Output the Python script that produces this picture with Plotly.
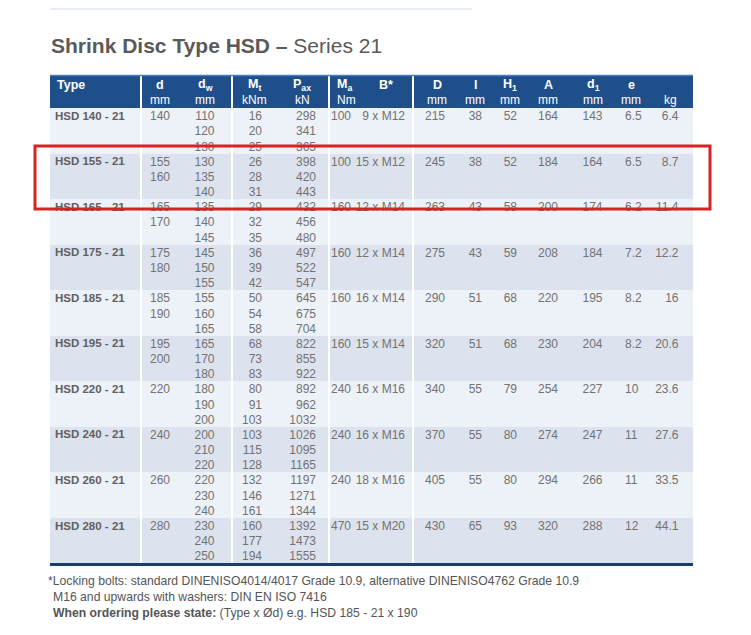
import plotly.graph_objects as go

# ---------------- data ----------------
types = ["HSD 140 - 21", "HSD 155 - 21", "HSD 165 - 21", "HSD 175 - 21", "HSD 185 - 21",
         "HSD 195 - 21", "HSD 220 - 21", "HSD 240 - 21", "HSD 260 - 21", "HSD 280 - 21"]
d_mm = [[140], [155, 160], [165, 170], [175, 180], [185, 190], [195, 200],
        [220], [240], [260], [280]]
dw_mm = [[110, 120, 130], [130, 135, 140], [135, 140, 145], [145, 150, 155], [155, 160, 165],
         [165, 170, 180], [180, 190, 200], [200, 210, 220], [220, 230, 240], [230, 240, 250]]
mt_knm = [[16, 20, 25], [26, 28, 31], [29, 32, 35], [36, 39, 42], [50, 54, 58],
          [68, 73, 83], [80, 91, 103], [103, 115, 128], [132, 146, 161], [160, 177, 194]]
pax_kn = [[298, 341, 365], [398, 420, 443], [432, 456, 480], [497, 522, 547], [645, 675, 704],
          [822, 855, 922], [892, 962, 1032], [1026, 1095, 1165], [1197, 1271, 1344],
          [1392, 1473, 1555]]
ma_nm = [100, 100, 160, 160, 160, 160, 240, 240, 240, 470]
bolts = ["9 x M12", "15 x M12", "12 x M14", "12 x M14", "16 x M14",
         "15 x M14", "16 x M16", "16 x M16", "18 x M16", "15 x M20"]
D_mm = [215, 245, 263, 275, 290, 320, 340, 370, 405, 430]
l_mm = [38, 38, 43, 43, 51, 51, 55, 55, 55, 65]
h1_mm = [52, 52, 58, 59, 68, 68, 79, 80, 80, 93]
a_mm = [164, 184, 200, 208, 220, 230, 254, 274, 294, 320]
d1_mm = [143, 164, 174, 184, 195, 204, 227, 247, 266, 288]
e_mm = [6.5, 6.5, 6.2, 7.2, 8.2, 8.2, 10, 11, 11, 12]
kg = [6.4, 8.7, 11.4, 12.2, 16, 20.6, 23.6, 27.6, 33.5, 44.1]

header_top = ["Type", "d", "d<sub>w</sub>", "M<sub>t</sub>", "P<sub>ax</sub>", "M<sub>a</sub>",
              "B*", "D", "l", "H<sub>1</sub>", "A", "d<sub>1</sub>", "e", ""]
header_units = ["", "mm", "mm", "kNm", "kN", "Nm", "", "mm", "mm", "mm", "mm", "mm", "mm", "kg"]

title_bold = "Shrink Disc Type HSD –"
title_rest = "Series 21"
foot_1 = "*Locking bolts: standard DINENISO4014/4017 Grade 10.9, alternative DINENISO4762 Grade 10.9"
foot_2 = "M16 and upwards with washers: DIN EN ISO 7416"
foot_3_bold = "When ordering please state:"
foot_3 = "(Type x Ød) e.g. HSD 185 - 21 x 190"

# ---------------- layout constants (reference pixels) ----------------
W, H = 751, 635
OFF = 8                  # page body margin of the html page
FONT = "Liberation Sans"
LINES = 3
N = len(types)
HEAD_Y0, HEAD_H = 75, 33
ROW_H = 15.17
TEXT_DROP = 4.7          # plotly puts text lower in a cell than the reference does
CELL_PAD = 8             # plotly table horizontal text padding
TABLE_X0, TABLE_X1 = 50, 693
GROUPS = [(50, 140), (142, 231), (233, 328), (330, 412), (414, 693)]
HEAD_BLUE = "#1f4f8a"
ROW_COLORS = ["#edf1f8", "#dde3ee"]
TXT = "#727272"


def px(x):
    return (x - OFF) / (W - OFF)


def py(y):
    return 1 - (y - OFF) / (H - OFF)


NB = "\u00a0"


def nb(s):
    return s.replace(" ", NB)


def per_line(groups):
    out = []
    for g in groups:
        out.extend(list(g) + [""] * (LINES - len(g)))
    return out


def first_line(vals):
    out = []
    for v in vals:
        out.extend([v] + [""] * (LINES - 1))
    return out


TABLE_BOTTOM = HEAD_Y0 + HEAD_H + N * LINES * ROW_H
DOM_Y = [py(TABLE_BOTTOM + 12), py(HEAD_Y0)]

fig = go.Figure()

# ---- background layer: blue header, group row fills, white separators ----
fill_cols, fill_w, head_fill = [], [], []
prev = None
for (a, b) in GROUPS:
    if prev is not None:
        fill_w.append(a - prev)
        fill_cols.append(["#ffffff"] * N)
        head_fill.append("#ffffff")
    fill_w.append(b - a)
    fill_cols.append([ROW_COLORS[i % 2] for i in range(N)])
    head_fill.append(HEAD_BLUE)
    prev = b

fig.add_trace(go.Table(
    domain=dict(x=[px(TABLE_X0), px(TABLE_X1)], y=DOM_Y),
    columnwidth=fill_w,
    header=dict(values=[""] * len(fill_w), height=HEAD_H, fill=dict(color=head_fill),
                line=dict(width=0)),
    cells=dict(values=[[""] * N for _ in fill_w], height=ROW_H * LINES,
               fill=dict(color=fill_cols), line=dict(width=0)),
    hoverinfo="skip",
))

# ---- text layer: one transparent table per column ----
# (values, text anchor x, alignment, bold)
text_cols = [
    (first_line([nb(t) for t in types]), 55, "left", True),
    (per_line(d_mm), 170, "right", False),
    (per_line(dw_mm), 214.5, "right", False),
    (per_line(mt_knm), 262, "right", False),
    (per_line(pax_kn), 316, "right", False),
    (first_line(ma_nm), 352, "right", False),
    (first_line([nb(b) for b in bolts]), 405, "right", False),
    (first_line(D_mm), 446, "right", False),
    (first_line(l_mm), 482, "right", False),
    (first_line(h1_mm), 517, "right", False),
    (first_line(a_mm), 558, "right", False),
    (first_line(d1_mm), 602.5, "right", False),
    (first_line(e_mm), 625, "left", False),
    (first_line(kg), 679.5, "right", False),
]
COL_SPAN = 90
for vals, anchor, al, bold in text_cols:
    if al == "left":
        x0, x1 = anchor - CELL_PAD, anchor - CELL_PAD + COL_SPAN
    else:
        x0, x1 = anchor + CELL_PAD - COL_SPAN, anchor + CELL_PAD
    font = dict(family=FONT, size=11.5 if bold else 12, color="#606060" if bold else TXT)
    if bold:
        font["weight"] = "bold"
    fig.add_trace(go.Table(
        domain=dict(x=[px(x0), px(x1)], y=DOM_Y),
        header=dict(values=[""], height=HEAD_H - TEXT_DROP,
                    fill=dict(color="rgba(0,0,0,0)"), line=dict(width=0)),
        cells=dict(values=[vals], height=ROW_H, fill=dict(color="rgba(0,0,0,0)"),
                   line=dict(width=0), align=al, font=font),
        hoverinfo="skip",
    ))

# ---- header labels ----
HEAD_X = [55, 160, 205, 254, 302, 335, 386, 437, 475, 510, 548, 593, 631, 670]
HEAD_ANCHOR = ["left", "center", "center", "center", "center", "left", "center",
               "center", "center", "center", "center", "center", "center", "center"]
annotations = []
for lab, unit, x, anc in zip(header_top, header_units, HEAD_X, HEAD_ANCHOR):
    if lab:
        annotations.append(dict(x=px(x), y=py(85), xref="paper", yref="paper",
                                text="<b>%s</b>" % lab, showarrow=False, xanchor=anc,
                                yanchor="middle",
                                font=dict(family=FONT, size=12.5, color="white")))
    if unit:
        annotations.append(dict(x=px(x), y=py(100), xref="paper", yref="paper",
                                text=unit, showarrow=False, xanchor=anc, yanchor="middle",
                                font=dict(family=FONT, size=12, color="white")))

# ---- title and footnotes ----
annotations.append(dict(x=px(49), y=py(45.5), xref="paper", yref="paper",
                        text="<b>%s</b> %s" % (title_bold, title_rest), showarrow=False,
                        xanchor="left", yanchor="middle",
                        font=dict(family=FONT, size=21, color="#5a5a5a")))
for txt, x, y in [(foot_1, 46, 581), (foot_2, 51, 597),
                  ("<b>%s</b> %s" % (foot_3_bold, foot_3), 51, 613)]:
    annotations.append(dict(x=px(x), y=py(y), xref="paper", yref="paper", text=txt,
                            showarrow=False, xanchor="left", yanchor="middle",
                            font=dict(family=FONT, size=12.2, color="#555555")))

# ---- decorative shapes ----
g1_top = HEAD_Y0 + HEAD_H + LINES * ROW_H
g1_bot = g1_top + LINES * ROW_H
shapes = [
    dict(type="rect", xref="paper", yref="paper", x0=px(50), x1=px(472), y0=py(10), y1=py(OFF),
         fillcolor="#e6ebf4", line=dict(width=0), layer="below"),
    dict(type="line", xref="paper", yref="paper", x0=px(TABLE_X0), x1=px(TABLE_X1),
         y0=py(HEAD_Y0 + 0.5), y1=py(HEAD_Y0 + 0.5), line=dict(color="#4a7cbf", width=1.5)),
    dict(type="rect", xref="paper", yref="paper", x0=px(TABLE_X0), x1=px(TABLE_X1),
         y0=py(TABLE_BOTTOM), y1=py(TABLE_BOTTOM + 3), fillcolor="#163f6e", line=dict(width=0)),
    dict(type="rect", xref="paper", yref="paper", x0=px(35), x1=px(710),
         y0=py(g1_top - 7.5), y1=py(g1_bot + 10), line=dict(color="#d42424", width=3),
         fillcolor="rgba(0,0,0,0)"),
]

fig.update_layout(
    width=W - OFF, height=H - OFF, margin=dict(l=0, r=0, t=0, b=0),
    paper_bgcolor="white", plot_bgcolor="white",
    annotations=annotations, shapes=shapes, showlegend=False,
)

fig.write_html("out.html")
